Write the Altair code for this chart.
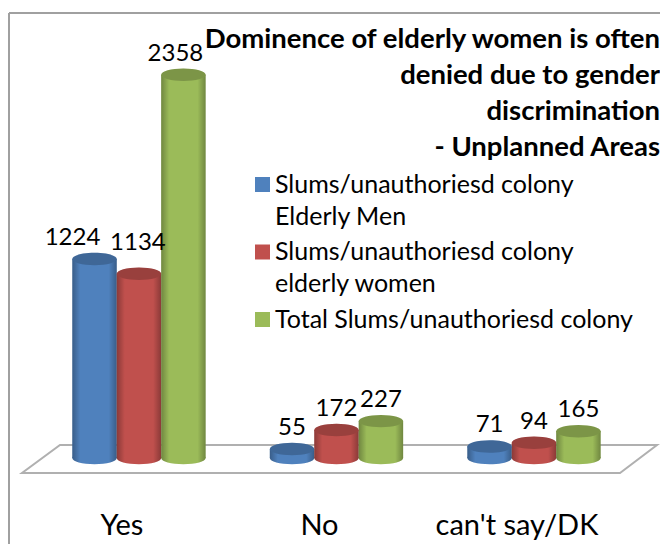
import altair as alt
import pandas as pd

categories = ["Yes", "No", "can't say/DK"]
series = [
    "Slums/unauthoriesd colony|Elderly Men",
    "Slums/unauthoriesd colony|elderly women",
    "Total Slums/unauthoriesd colony",
]
men = [1224, 55, 71]
women = [1134, 172, 94]
total = [2358, 227, 165]
colors = ["#4F81BD", "#C0504D", "#9BBB59"]
title_lines = [
    "Dominence of elderly women is often",
    "denied due to gender",
    "discrimination",
    "- Unplanned Areas",
]

rows = []
for s, vals in zip(series, [men, women, total]):
    for c, v in zip(categories, vals):
        rows.append({"category": c, "series": s, "value": v})
df = pd.DataFrame(rows)

FONT = "Lato"
ELLIPSE = "M -1 0 A 1 0.28 0 1 0 1 0 A 1 0.28 0 1 0 -1 0 Z"
ELLIPSE_SIZE = 1971

x = alt.X(
    "category:N",
    sort=categories,
    scale=alt.Scale(paddingInner=0.325, paddingOuter=0.313, align=0.52),
    axis=alt.Axis(
        title=None, domain=False, ticks=False, labelAngle=0,
        labelFont=FONT, labelFontSize=29, labelColor="#000000", labelPadding=65,
        labelOffset=-17,
    ),
)
x_off = alt.XOffset("series:N", sort=series, scale=alt.Scale(paddingInner=0, paddingOuter=0))
y_scale = alt.Scale(domain=[0, 2769], nice=False, zero=True)
y = alt.Y("value:Q", scale=y_scale, axis=None, stack=None)
y0 = alt.Y(datum=0, scale=y_scale, axis=None)
color = alt.Color(
    "series:N",
    sort=series,
    scale=alt.Scale(domain=series, range=colors),
    legend=alt.Legend(
        title=None, orient="none", legendX=242, legendY=164,
        symbolType="square", symbolSize=225, symbolStrokeWidth=0, symbolOpacity=1,
        labelFont=FONT, labelFontSize=25, labelColor="#000000", labelLimit=400,
        labelBaseline="top", labelOffset=0, rowPadding=9.5,
        labelExpr="split(datum.label, '|')",
    ),
)

shade = alt.LinearGradient(
    gradient="linear",
    x1=0, x2=1, y1=0, y2=0,
    stops=[
        alt.GradientStop(color="rgba(0,0,0,0.28)", offset=0),
        alt.GradientStop(color="rgba(0,0,0,0)", offset=0.18),
        alt.GradientStop(color="rgba(0,0,0,0)", offset=0.82),
        alt.GradientStop(color="rgba(0,0,0,0.28)", offset=1),
    ],
)

one = pd.DataFrame({"a": [0]})
frame_top = alt.Chart(one).mark_rule(color="#a0a0a0", strokeWidth=2).encode(
    x=alt.value(1), x2=alt.value(652), y=alt.value(5))
frame_left = alt.Chart(one).mark_rule(color="#a0a0a0", strokeWidth=2).encode(
    x=alt.value(1), y=alt.value(5), y2=alt.value(536))
floor = alt.Chart(one).mark_point(
    shape="M 14 465 L 612 465 L 649 437 L 52 437 Z",
    filled=True, fill="#ffffff", stroke="#b0b0b0", strokeWidth=2, opacity=1, size=4,
).encode(x=alt.value(0), y=alt.value(0))

base = alt.Chart(df)
bottom = base.mark_point(shape=ELLIPSE, filled=True, opacity=1, size=ELLIPSE_SIZE).encode(
    x=x, xOffset=x_off, y=y0, color=color)
bottom_shade = base.mark_point(shape=ELLIPSE, filled=True, fill=shade, opacity=1, size=ELLIPSE_SIZE).encode(
    x=x, xOffset=x_off, y=y0)
body = base.mark_bar(opacity=1).encode(x=x, xOffset=x_off, y=y, color=color)
body_shade = base.mark_bar(fill=shade, opacity=1).encode(x=x, xOffset=x_off, y=y)
top = base.mark_point(shape=ELLIPSE, filled=True, opacity=1, size=ELLIPSE_SIZE).encode(
    x=x, xOffset=x_off, y=y, color=color)
top_shade = base.mark_point(shape=ELLIPSE, filled=True, color="#000000", opacity=0.2, size=ELLIPSE_SIZE).encode(
    x=x, xOffset=x_off, y=y)


def labels(cond, dx, dy):
    return base.transform_filter(cond).mark_text(
        font=FONT, fontSize=24, color="#000000", baseline="middle", dx=dx, dy=dy,
    ).encode(x=x, xOffset=x_off, y=y, text=alt.Text("value:Q", format="d"))


lab_main = labels("datum.value != 1224 && datum.value != 1134 && datum.value != 2358", 0, -21)
lab_a = labels("datum.value == 1224", -22, -21)
lab_b = labels("datum.value == 1134", -1, -31)
lab_c = labels("datum.value == 2358", -8, -21)

chart = alt.layer(
    frame_top, frame_left, floor,
    bottom, bottom_shade, body, body_shade, top, top_shade,
    lab_main, lab_a, lab_b, lab_c,
).resolve_scale(x="shared", y="shared", color="shared").properties(
    width=652,
    height=450,
    padding={"left": 0, "top": 0, "right": 0, "bottom": 86},
    autosize=alt.AutoSizeParams(type="none"),
    title=alt.TitleParams(
        text=title_lines, anchor="end", frame="group", align="right", baseline="top",
        font=FONT, fontSize=27.5, fontWeight="bold", color="#000000",
        lineHeight=36, offset=0, dx=0, dy=153,
    ),
).configure(
    background="#ffffff",
    style={"guide-label": {"lineHeight": 32, "dy": -12}},
).configure_view(stroke=None)

chart.save("out.html", embed_options={"renderer": "svg", "actions": False})
